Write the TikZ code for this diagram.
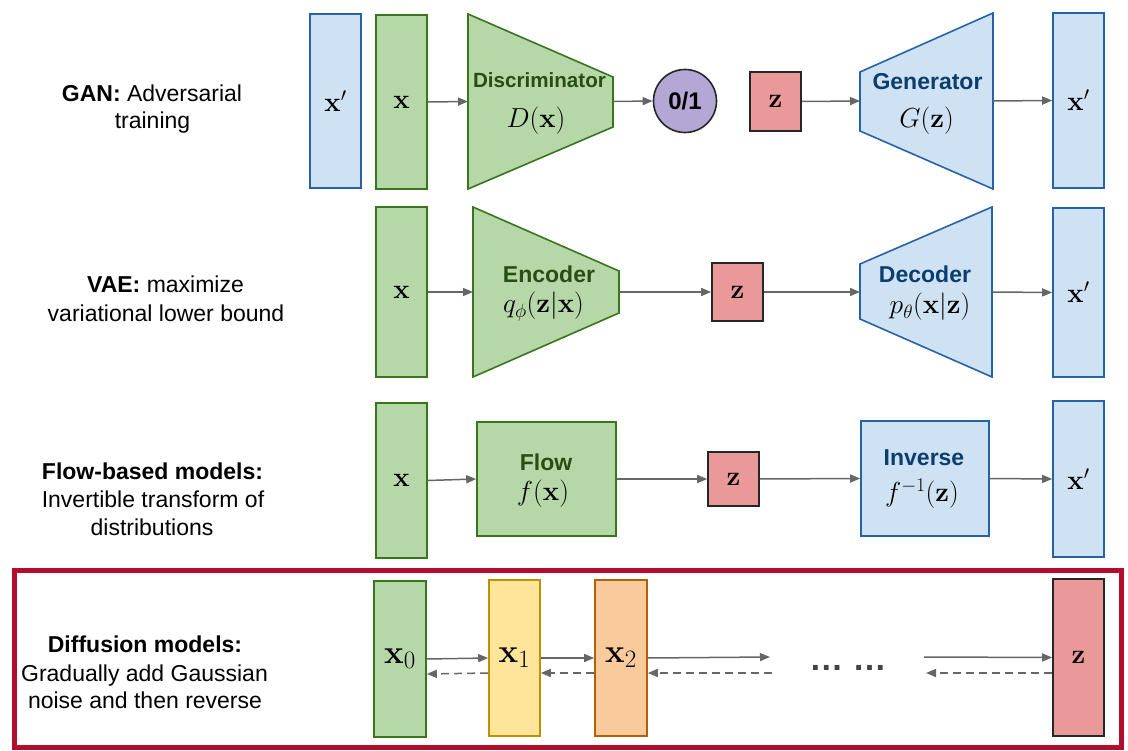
\RequirePackage{fix-cm}
\documentclass[tikz,border=0pt]{standalone}
\usepackage[no-math]{fontspec}
\setmainfont{Liberation Sans}
\usetikzlibrary{arrows.meta}
\DeclareMathSizes{33}{33}{25}{18}

\definecolor{gfill}{HTML}{B6D7A8}
\definecolor{gline}{HTML}{38761D}
\definecolor{gtext}{HTML}{274E13}
\definecolor{bfill}{HTML}{CFE2F3}
\definecolor{bline}{HTML}{2563A6}
\definecolor{btext}{HTML}{0B3D6E}
\definecolor{rfill}{HTML}{EA9999}
\definecolor{pfill}{HTML}{B4A7D6}
\definecolor{yfill}{HTML}{FFE599}
\definecolor{yline}{HTML}{BF9000}
\definecolor{ofill}{HTML}{F9CB9C}
\definecolor{oline}{HTML}{B45F06}
\definecolor{framered}{HTML}{B30D2E}
\definecolor{arrgray}{HTML}{666666}
\definecolor{dotgray}{HTML}{444444}

\newcommand\txtsz{\fontsize{23}{28}\selectfont}
\newcommand\mathsz{\fontsize{27.5}{33}\selectfont}
\newcommand\bigmathsz{\fontsize{33}{40}\selectfont}

\begin{document}
\begin{tikzpicture}[x=1pt,y=-1pt,
  box/.style={draw, line width=1.6pt, inner sep=0pt, font=\mathsz},
  gbox/.style={box, fill=gfill, draw=gline},
  bbox/.style={box, fill=bfill, draw=bline},
  rbox/.style={box, fill=rfill, draw=black!85},
  ybox/.style={box, fill=yfill, draw=yline},
  obox/.style={box, fill=ofill, draw=oline},
  gshape/.style={fill=gfill, draw=gline, line width=1.6pt},
  bshape/.style={fill=bfill, draw=bline, line width=1.6pt},
  holder/.style={inner sep=0pt, outer sep=0pt, draw=none},
  arr/.style={draw=arrgray, line width=1.5pt, -{Triangle[length=10pt,width=8pt]}},
  darr/.style={arr, dash pattern=on 8pt off 5pt},
  lbl/.style={anchor=base, inner sep=0pt, font=\txtsz},
  gname/.style={anchor=base, inner sep=0pt, font=\txtsz\bfseries, text=gtext},
  bname/.style={anchor=base, inner sep=0pt, font=\txtsz\bfseries, text=btext},
  fn/.style={anchor=base, inner sep=0pt, font=\mathsz}]
\useasboundingbox (0,0) rectangle (1128,751);

% ---------- row labels ----------
\node[lbl] (ganA) at (152,102) {\textbf{GAN:} Adversarial};
\node[lbl] (ganB) at (152.5,129) {training};
\node[lbl] (vaeA) at (165.5,293) {\textbf{VAE:} maximize};
\node[lbl] (vaeB) at (166,322) {variational lower bound};
\node[lbl] (flowA) at (152.5,479) {\textbf{Flow-based models:}};
\node[lbl] (flowB) at (153,507) {Invertible transform of};
\node[lbl] (flowC) at (152,535) {distributions};
\node[lbl] (difA) at (145,652) {\textbf{Diffusion models:}};
\node[lbl] (difB) at (144.5,681) {Gradually add Gaussian};
\node[lbl] (difC) at (145,708) {noise and then reverse};

% ---------- GAN ----------
\node[bbox, minimum width=51, minimum height=174] (gxp1) at (335.5,101) {$\mathbf{x}'$};
\node[gbox, minimum width=51, minimum height=174] (gx) at (401.5,102) {$\mathbf{x}$};
\node[holder, minimum width=145, minimum height=175] (disc) at (540.5,101.5) {};
\filldraw[gshape] (disc.north west) -- ([yshift=-63pt]disc.north east)
  -- ([yshift=62pt]disc.south east) -- (disc.south west) -- cycle;
\node[gname, font=\fontsize{20.6}{25}\selectfont\bfseries] (discname) at (539.5,88) {Discriminator};
\node[fn] (discfn) at (536,128) {$D(\mathbf{x})$};
\node[circle, draw=black!85, line width=1.6pt, fill=pfill, minimum size=63, inner sep=0pt,
  font=\fontsize{24}{28}\selectfont\bfseries] (out) at (685,101) {0/1};
\node[rbox, minimum width=51, minimum height=59] (gz) at (775.5,101.5) {$\mathbf{z}$};
\node[holder, minimum width=133, minimum height=176] (gen) at (926.5,101) {};
\filldraw[bshape] ([yshift=-59pt]gen.north west) -- (gen.north east)
  -- (gen.south east) -- ([yshift=58pt]gen.south west) -- cycle;
\node[bname] (genname) at (927.5,90) {Generator};
\node[fn] (genfn) at (926.5,128) {$G(\mathbf{z})$};
\node[bbox, minimum width=51, minimum height=175] (gxp2) at (1078.5,100.5) {$\mathbf{x}'$};

\draw[arr] (gx.east) -- (disc.west);
\draw[arr] (disc.east) -- (out.west);
\draw[arr] (gz.east) -- (gen.west);
\draw[arr] (gen.east) -- (gxp2.west);

% ---------- VAE ----------
\node[gbox, minimum width=51, minimum height=170] (vx) at (401.5,292) {$\mathbf{x}$};
\node[holder, minimum width=146, minimum height=170] (enc) at (546,292) {};
\filldraw[gshape] (enc.north west) -- ([yshift=-64pt]enc.north east)
  -- ([yshift=64pt]enc.south east) -- (enc.south west) -- cycle;
\node[gname] (encname) at (549,283) {Encoder};
\node[fn] (encfn) at (543.5,313) {$q_\phi(\mathbf{z}|\mathbf{x})$};
\node[rbox, minimum width=51, minimum height=58] (vz) at (737.5,292) {$\mathbf{z}$};
\node[holder, minimum width=132, minimum height=170] (dec) at (926,292) {};
\filldraw[bshape] ([yshift=-57pt]dec.north west) -- (dec.north east)
  -- (dec.south east) -- ([yshift=58pt]dec.south west) -- cycle;
\node[bname] (decname) at (925,283) {Decoder};
\node[fn] (decfn) at (930,314) {$p_\theta(\mathbf{x}|\mathbf{z})$};
\node[bbox, minimum width=51, minimum height=169] (vxp) at (1078.5,292.5) {$\mathbf{x}'$};

\draw[arr] (vx.east) -- (enc.west);
\draw[arr] (enc.east) -- (vz.west);
\draw[arr] (vz.east) -- (dec.west);
\draw[arr] (dec.east) -- (vxp.west);

% ---------- Flow ----------
\node[gbox, minimum width=51, minimum height=155] (fx) at (401.5,480.5) {$\mathbf{x}$};
\node[gbox, minimum width=139, minimum height=114] (flow) at (546.5,479) {};
\node[gname] (flowname) at (546,470) {Flow};
\node[fn] (flowfn) at (543,500) {$f(\mathbf{x})$};
\node[rbox, minimum width=51, minimum height=54] (fz) at (733.5,479) {$\mathbf{z}$};
\node[bbox, minimum width=128, minimum height=115] (inv) at (925,478.5) {};
\node[bname] (invname) at (924,465) {Inverse};
\node[fn] (invfn) at (922,501) {$f^{-1}(\mathbf{z})$};
\node[bbox, minimum width=51, minimum height=156] (fxp) at (1078.5,479) {$\mathbf{x}'$};

\draw[arr] (fx.east) -- (flow.west);
\draw[arr] (flow.east) -- (fz.west);
\draw[arr] (fz.east) -- (inv.west);
\draw[arr] (inv.east) -- (fxp.west);

% ---------- Diffusion ----------
\node[draw=framered, line width=5pt, minimum width=1107, minimum height=177, inner sep=0pt]
  (diffframe) at (568,659) {};
\node[gbox, minimum width=52, minimum height=156, font=\bigmathsz] (d0) at (400,659) {$\mathbf{x}_0$};
\node[ybox, minimum width=51, minimum height=156, font=\bigmathsz] (d1) at (514.5,658) {$\mathbf{x}_1$};
\node[obox, minimum width=52, minimum height=156, font=\bigmathsz] (d2) at (621,658) {$\mathbf{x}_2$};
\node[rbox, minimum width=51, minimum height=157] (dz) at (1078.5,657.5) {$\mathbf{z}$};
\node[anchor=base, inner sep=0pt, text=dotgray, font=\fontsize{34}{40}\selectfont\bfseries] (dots) at (848,670) {… …};

\coordinate (fwdend) at (770,657);
\coordinate (bwdstart) at (772,673);
\coordinate (fwdstart) at (924,657);
\coordinate (bwdend) at (926,673);

\draw[arr] (d0.east) -- (d1.west);
\draw[arr] (d1.east) -- (d2.west);
\draw[arr] (d2.east) -- (fwdend);
\draw[arr] (fwdstart) -- (dz.west);
\draw[darr] ([yshift=-15pt]d1.west) -- ([yshift=-15pt]d0.east);
\draw[darr] ([yshift=-15pt]d2.west) -- ([yshift=-15pt]d1.east);
\draw[darr] (bwdstart) -- ([yshift=-15pt]d2.east);
\draw[darr] ([yshift=-15.5pt]dz.west) -- (bwdend);
\end{tikzpicture}
\end{document}
